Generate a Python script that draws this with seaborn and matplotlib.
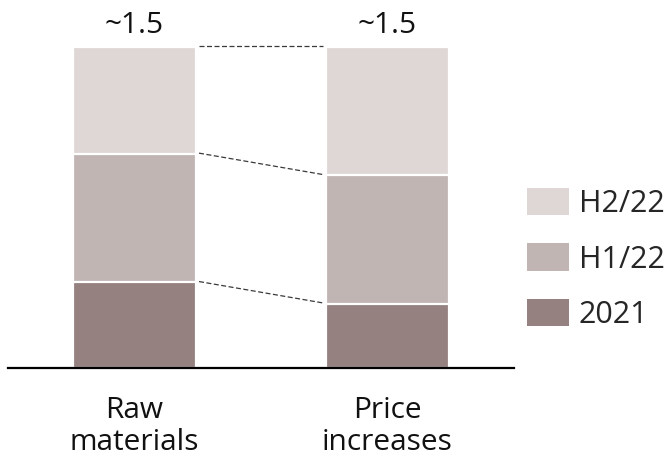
import matplotlib
matplotlib.use("Agg")
import matplotlib.pyplot as plt
from matplotlib.patches import Patch
import numpy as np
import pandas as pd
import seaborn as sns

# Data (values in bn)
categories = ["Raw\nmaterials", "Price\nincreases"]
val_2021 = [0.40, 0.30]
val_h1_22 = [0.60, 0.60]
val_h2_22 = [0.50, 0.60]
total_labels = ["~1.5", "~1.5"]

colors = {"2021": "#958180", "H1/22": "#C1B5B4", "H2/22": "#DFD7D6"}

sns.set_theme(style="white")
plt.rcParams["font.family"] = ["Open Sans", "DejaVu Sans"]
FS = 21.5

# cumulative tops of each stacked segment
cum_2021 = np.array(val_2021)
cum_h1 = cum_2021 + np.array(val_h1_22)
cum_h2 = cum_h1 + np.array(val_h2_22)

df = pd.DataFrame({
    "category": categories * 3,
    "series": ["H2/22"] * 2 + ["H1/22"] * 2 + ["2021"] * 2,
    "top": list(cum_h2) + list(cum_h1) + list(cum_2021),
})

fig = plt.figure(figsize=(6.72, 4.59), dpi=100)
ax = fig.add_axes([8 / 672, 91 / 459, 506 / 672, 321 / 459])

bar_w = 0.49
# draw from tallest to shortest so each segment overlays the one above
for name in ["H2/22", "H1/22", "2021"]:
    sub = df[df["series"] == name]
    sns.barplot(data=sub, x="category", y="top", order=categories,
                color=colors[name], width=bar_w, edgecolor="white",
                linewidth=1.6, saturation=1, ax=ax, zorder=2)

# dashed connectors between the segment boundaries
x_left = 0 + bar_w / 2
x_right = 1 - bar_w / 2
for a, b in zip([cum_h2[0], cum_h1[0], cum_2021[0]],
                [cum_h2[1], cum_h1[1], cum_2021[1]]):
    ax.plot([x_left + 0.01, x_right - 0.01], [a + 0.004, b + 0.004],
            color="#3a3a3a", lw=0.9, ls=(0, (4, 2)), zorder=3,
            clip_on=False)

# totals above bars
for i, lbl in enumerate(total_labels):
    ax.text(i, cum_h2[i] + 0.065, lbl, ha="center", va="baseline",
            fontsize=FS, color="#111111", clip_on=False)

ax.set_xlim(-0.5, 1.5)
ax.set_ylim(0, 1.5)
ax.set_xlabel("")
ax.set_ylabel("")
ax.set_yticks([])
ax.tick_params(axis="x", length=0, pad=20, labelsize=FS, colors="#111111")
for lab in ax.get_xticklabels():
    lab.set_linespacing(1.14)

for side in ["top", "right", "left"]:
    ax.spines[side].set_visible(False)
ax.spines["bottom"].set_color("black")
ax.spines["bottom"].set_linewidth(1.6)

handles = [Patch(facecolor=colors[n], edgecolor="none") for n in ["H2/22", "H1/22", "2021"]]
fig.legend(handles, ["H2/22", "H1/22", "2021"], loc="center left",
           bbox_to_anchor=(527 / 672, 200 / 459), frameon=False,
           fontsize=22, handlelength=1.37, handleheight=1.0,
           handletextpad=0.33, labelspacing=0.8, borderpad=0,
           borderaxespad=0)

fig.savefig("out.png", dpi=100)
